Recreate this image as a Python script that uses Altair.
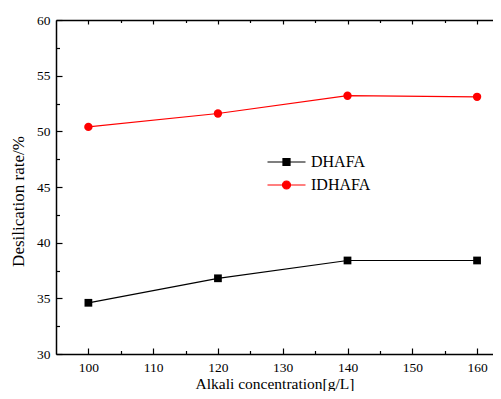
import altair as alt
import pandas as pd

# ---- data ----
concentration = [100, 120, 140, 160]
dhafa = [34.6, 36.8, 38.4, 38.4]
idhafa = [50.4, 51.6, 53.2, 53.1]
series_names = ["DHAFA", "IDHAFA"]
series_colors = ["#000000", "#FF0000"]

x_major = [100, 110, 120, 130, 140, 150, 160]
x_minor = [105, 115, 125, 135, 145, 155]
y_major = [30, 35, 40, 45, 50, 55, 60]
y_minor = [32.5, 37.5, 42.5, 47.5, 52.5, 57.5]

df = pd.DataFrame({
    "conc": concentration * 2,
    "rate": dhafa + idhafa,
    "series": ["DHAFA"] * 4 + ["IDHAFA"] * 4,
})

W, H = 437, 334
FONT = "Liberation Serif"

xs = alt.Scale(domain=[95, 162.46], nice=False, zero=False)
ys = alt.Scale(domain=[30, 60], nice=False, zero=False)

main_x = alt.Axis(orient="bottom", values=x_major, ticks=False, tickSize=0,
                  labelPadding=6, labelFontSize=13.5, labelFont=FONT, labelColor="black",
                  domain=True, domainColor="black", domainWidth=1.5,
                  title="Alkali concentration[g/L]", titleFont=FONT, titleFontSize=15.5,
                  titleFontWeight="normal", titleColor="black",
                  titleY=34, titleBaseline="alphabetic", grid=False)
main_y = alt.Axis(orient="left", values=y_major, ticks=False, tickSize=0,
                  labelPadding=6, labelFontSize=13.5, labelFont=FONT, labelColor="black",
                  domain=True, domainColor="black", domainWidth=1.5,
                  title="Desilication rate/%", titleFont=FONT, titleFontSize=17,
                  titleFontWeight="normal", titleColor="black", titlePadding=9,
                  titleY=181, grid=False)


def enc(base, xaxis, yaxis):
    return base.encode(
        x=alt.X("conc:Q", scale=xs, axis=xaxis),
        y=alt.Y("rate:Q", scale=ys, axis=yaxis),
    )


d1 = alt.Chart(df[df.series == "DHAFA"])
d2 = alt.Chart(df[df.series == "IDHAFA"])

l1 = enc(d1.mark_line(color="#000000", strokeWidth=1.2), main_x, main_y)
p1 = enc(d1.mark_square(size=60, color="#000000", opacity=1, filled=True), None, None)
l2 = enc(d2.mark_line(color="#FF0000", strokeWidth=1.2), None, None)
p2 = enc(d2.mark_circle(size=70, color="#FF0000", opacity=1), None, None)


def tick_axis(orient, values, size, offset, domain=False):
    return alt.Axis(orient=orient, values=values, labels=False, ticks=True, tickSize=size,
                    tickColor="black", tickWidth=1.2, domain=domain, domainColor="black",
                    domainWidth=1.5, offset=offset, title=None, grid=False)


def ghost(xaxis, yaxis):
    return enc(alt.Chart(df).mark_point(opacity=0), xaxis, yaxis)


gA = ghost(tick_axis("top", x_major, 6, -H), tick_axis("right", y_major, 6, -W))
gB = ghost(tick_axis("top", x_minor, 3.5, -H), tick_axis("right", y_minor, 3.5, -W))
gC = ghost(tick_axis("bottom", x_major, 4, -H, domain=True), None)
gD = ghost(tick_axis("bottom", x_minor, 2.5, -H), None)

sq_path = "M-2,0L2,0M-0.37,-0.37L0.37,-0.37L0.37,0.37L-0.37,0.37Z"
ci_path = "M-2,0L2,0M-0.42,0A0.42,0.42,0,1,0,0.42,0A0.42,0.42,0,1,0,-0.42,0Z"

leg = alt.Legend(orient="none", legendX=220, legendY=131.5, title=None,
                 labelFont=FONT, labelFontSize=16, labelColor="black",
                 symbolSize=361, symbolStrokeWidth=1.2, labelOffset=14,
                 rowPadding=4, padding=0, symbolOpacity=1)

legend_layer = alt.Chart(df).mark_point(filled=True, opacity=1).encode(
    fill=alt.Fill("series:N", scale=alt.Scale(domain=series_names, range=series_colors), legend=leg),
    stroke=alt.Stroke("series:N", scale=alt.Scale(domain=series_names, range=series_colors), legend=leg),
    shape=alt.Shape("series:N", scale=alt.Scale(domain=series_names, range=[sq_path, ci_path]), legend=leg),
).transform_filter(alt.datum.series == "none")

chart = alt.layer(l1, p1, l2, p2, gA, gB, gC, gD, legend_layer).resolve_axis(
    x="independent", y="independent"
).properties(
    width=W, height=H,
    autosize=alt.AutoSizeParams(type="none"),
    padding={"left": 48, "top": 12, "right": 0, "bottom": 37},
).configure_view(stroke=None).configure(background="white")

chart.save("out.html", embed_options={"renderer": "svg", "actions": False})
